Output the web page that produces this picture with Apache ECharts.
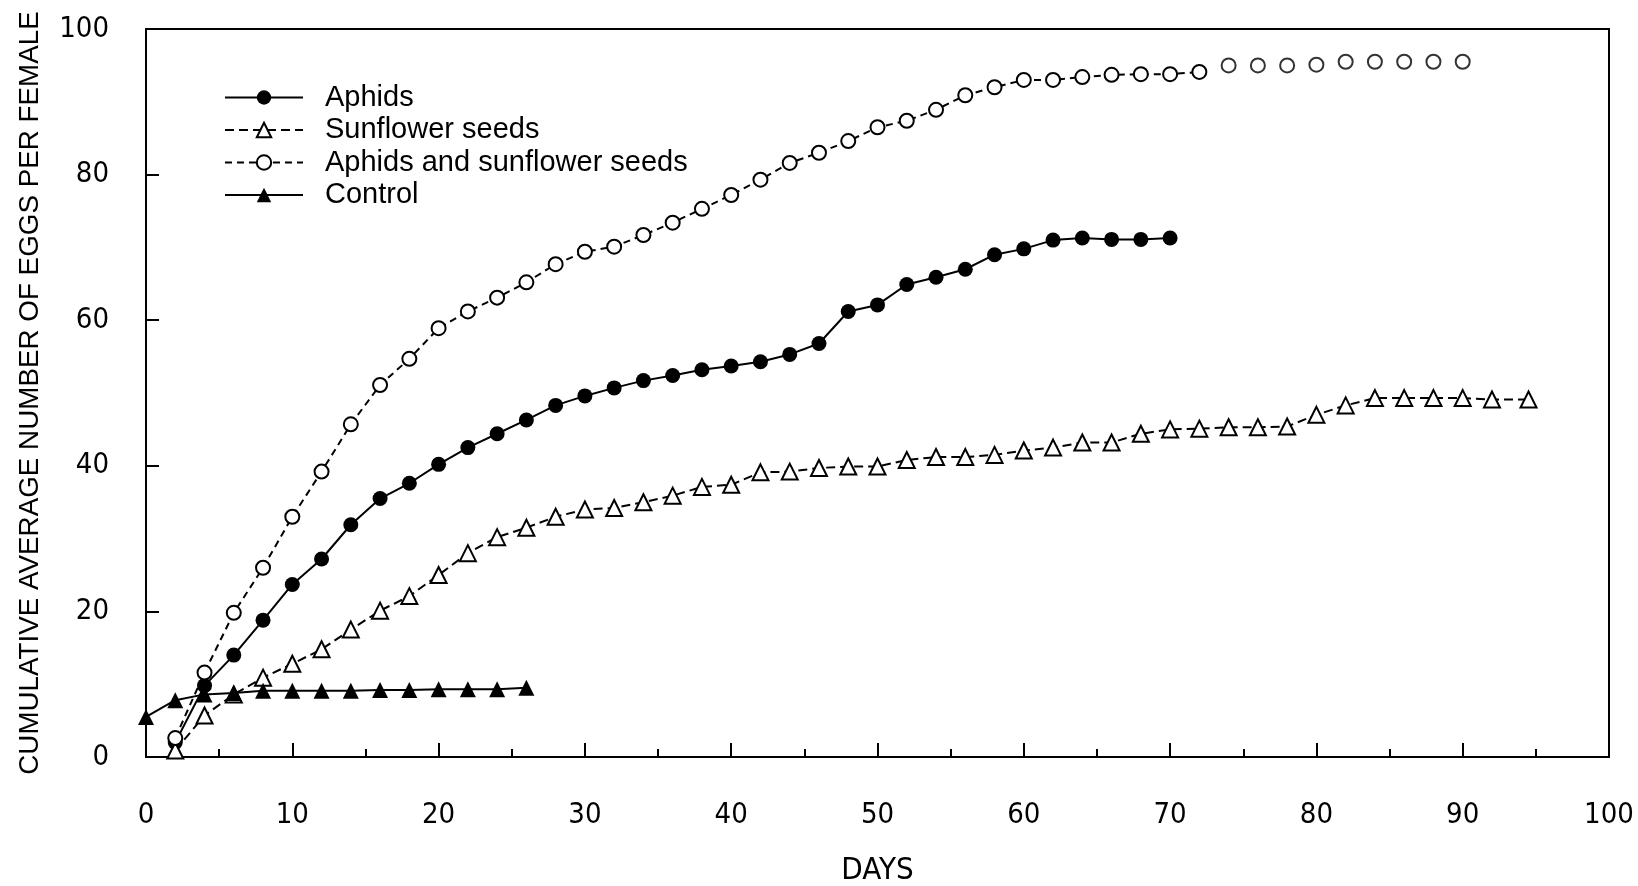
<!DOCTYPE html>
<html>
<head>
<meta charset="utf-8">
<script src="https://cdn.jsdelivr.net/npm/echarts@6/dist/echarts.min.js"></script>
<style>
html,body{margin:0;padding:0;background:#fff;}
#chart{width:1638px;height:886px;}
</style>
</head>
<body>
<div id="chart"></div>
<script>
// ---- data ----
const aphidsDays = [2,4,6,8,10,12,14,16,18,20,22,24,26,28,30,32,34,36,38,40,42,44,46,48,50,52,54,56,58,60,62,64,66,68,70];
const aphidsEggs = [2,9.8,14,18.8,23.7,27.2,31.9,35.5,37.6,40.2,42.5,44.4,46.3,48.3,49.6,50.7,51.7,52.4,53.2,53.7,54.3,55.3,56.8,61.2,62.1,64.9,65.9,67,69,69.8,71,71.3,71.1,71.1,71.3];

const seedsDays = [2,4,6,8,10,12,14,16,18,20,22,24,26,28,30,32,34,36,38,40,42,44,46,48,50,52,54,56,58,60,62,64,66,68,70,72,74,76,78,80,82,84,86,88,90,92,94.5];
const seedsEggs = [0.9,5.7,8.6,10.9,12.8,14.8,17.5,20.1,22.1,25,28,30.2,31.5,33,34,34.2,35,35.9,37.1,37.4,39.1,39.2,39.7,39.9,39.9,40.8,41.2,41.2,41.5,42.1,42.5,43.2,43.2,44.4,45,45.1,45.3,45.3,45.4,47,48.3,49.3,49.3,49.3,49.3,49.1,49.1];

const bothDays = [2,4,6,8,10,12,14,16,18,20,22,24,26,28,30,32,34,36,38,40,42,44,46,48,50,52,54,56,58,60,62,64,66,68,70,72,74,76,78,80,82,84,86,88,90];
const bothEggs = [2.6,11.6,19.8,26,33,39.2,45.7,51.1,54.7,58.9,61.2,63.1,65.2,67.7,69.4,70.1,71.7,73.4,75.3,77.2,79.3,81.6,83,84.6,86.5,87.4,88.9,90.9,92,93,93,93.4,93.7,93.8,93.8,94.1,95,95,95,95.1,95.5,95.5,95.5,95.5,95.5];
const bothLineEndsAt = 72; // later points are drawn without connecting line

const controlDays = [0,2,4,6,8,10,12,14,16,18,20,22,24,26];
const controlEggs = [5.5,7.8,8.6,8.8,9.1,9.1,9.1,9.1,9.2,9.2,9.3,9.3,9.3,9.5];

const xTicks = [0,10,20,30,40,50,60,70,80,90,100];
const yTicks = [0,20,40,60,80,100];

const seriesNames = ['Aphids','Sunflower seeds','Aphids and sunflower seeds','Control'];

// ---- build ----
const zip = (xs, ys) => xs.map((x, i) => [x, ys[i]]);
const bothAll = zip(bothDays, bothEggs);
const bothLine = bothAll.filter(p => p[0] <= bothLineEndsAt);
const bothTail = bothAll.filter(p => p[0] > bothLineEndsAt);

const tickFont = '"Liberation Sans Narrow","Arial Narrow","DejaVu Sans Condensed",sans-serif';
const textFont = '"Liberation Sans",Arial,sans-serif';

const chart = echarts.init(document.getElementById('chart'), null, {renderer:'canvas'});
chart.setOption({
  backgroundColor: '#ffffff',
  animation: false,
  grid: {left:146, right:29, top:29, bottom:129, containLabel:false, outerBoundsMode:'none',
         show:true, borderColor:'#000', borderWidth:2, backgroundColor:'transparent'},
  legend: {
    orient: 'vertical', left: 219, top: 78,
    itemWidth: 78, itemHeight: 18, itemGap: 3.5,
    data: seriesNames,
    textStyle: {fontFamily: textFont, fontSize: 29, color:'#000', padding:[0,0,0,17]},
    selectedMode: false
  },
  xAxis: {
    type:'value', min:0, max:100, interval:10,
    name:'DAYS', nameLocation:'middle', nameGap:98,
    nameTextStyle:{fontFamily: tickFont, fontSize:31, color:'#000'},
    axisLine:{show:true, lineStyle:{color:'#000', width:2}},
    axisTick:{show:true, inside:true, length:14, lineStyle:{color:'#000', width:2}},
    minorTick:{show:true, splitNumber:2, length:8, lineStyle:{color:'#000', width:2}},
    splitLine:{show:false},
    axisLabel:{margin:44, fontFamily: tickFont, fontSize:29, color:'#000',
      formatter: v => xTicks.includes(v) ? String(v) : ''}
  },
  yAxis: {
    type:'value', min:0, max:100, interval:20,
    name:'CUMULATIVE AVERAGE NUMBER OF EGGS PER FEMALE', nameLocation:'middle', nameGap:102,
    nameTextStyle:{fontFamily: textFont, fontSize:27.8, color:'#000'},
    axisLine:{show:true, lineStyle:{color:'#000', width:2}},
    axisTick:{show:true, inside:true, length:13, lineStyle:{color:'#000', width:2}},
    splitLine:{show:false},
    axisLabel:{margin:37, fontFamily: tickFont, fontSize:29, color:'#000',
      formatter: v => yTicks.includes(v) ? String(v) : ''}
  },
  series: [
    {
      name: seriesNames[0], type:'line', data: zip(aphidsDays, aphidsEggs),
      symbol:'circle', symbolSize:15, z:3,
      lineStyle:{color:'#000', width:2, type:'solid'},
      itemStyle:{color:'#000', borderColor:'#000', borderWidth:0}
    },
    {
      name: seriesNames[1], type:'line', data: zip(seedsDays, seedsEggs),
      symbol:'triangle', symbolSize:16, z:3,
      lineStyle:{color:'#000', width:2, type:[9,5]},
      itemStyle:{color:'#fff', borderColor:'#000', borderWidth:2}
    },
    {
      name: seriesNames[2], type:'line', data: bothLine,
      symbol:'circle', symbolSize:14, z:3,
      lineStyle:{color:'#000', width:2, type:[7,5]},
      itemStyle:{color:'#fff', borderColor:'#000', borderWidth:2}
    },
    {
      name: seriesNames[2], type:'scatter', data: bothTail,
      symbol:'circle', symbolSize:14, z:3,
      itemStyle:{color:'#fff', borderColor:'#000', borderWidth:2}
    },
    {
      name: seriesNames[3], type:'line', data: zip(controlDays, controlEggs),
      symbol:'triangle', symbolSize:16, z:4,
      lineStyle:{color:'#000', width:2, type:'solid'},
      itemStyle:{color:'#000', borderColor:'#000', borderWidth:0}
    }
  ]
});
</script>
</body>
</html>
